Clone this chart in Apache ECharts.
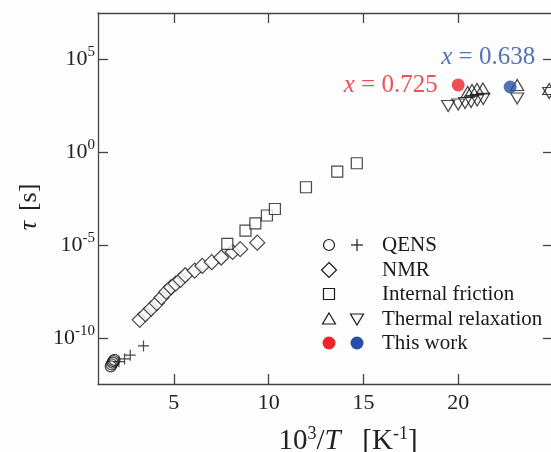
<!DOCTYPE html>
<html>
<head>
<meta charset="utf-8">
<script src="https://cdn.jsdelivr.net/npm/echarts@6/dist/echarts.min.js"></script>
<style>
html,body{margin:0;padding:0;background:#fdfdfd;}
#main{width:551px;height:452px;}
</style>
</head>
<body>
<div id="main"></div>
<script>
// x: 10^3/T [1/K], y: log10(tau / s)
var qensCircle = [[1.67,-11.5],[1.72,-11.4],[1.77,-11.3],[1.82,-11.22],[1.87,-11.15]];
var qensCross = [[2.1,-11.25],[2.4,-11.1],[2.7,-10.9],[3.4,-10.4]];
var nmr = [[3.2,-9.0],[3.5,-8.7],[3.8,-8.4],[4.1,-8.1],[4.35,-7.8],[4.6,-7.5],[4.85,-7.25],
           [5.1,-7.05],[5.35,-6.85],[5.6,-6.6],[6.1,-6.35],[6.5,-6.1],[7.0,-5.9],[7.5,-5.65],
           [8.1,-5.35],[8.5,-5.2],[9.4,-4.85]];
var friction = [[7.82,-4.92],[8.78,-4.2],[9.3,-3.81],[9.91,-3.39],[10.33,-3.04],
                [11.97,-1.87],[13.62,-1.03],[14.65,-0.58]];
var thermalUp = [[20.5,3.25],[20.73,3.36],[20.99,3.41],[21.3,3.44],[23.11,3.63],[24.8,3.41]];
var thermalDown = [[19.47,2.5],[20.0,2.58],[20.36,2.66],[20.68,2.72],[21.0,2.8],[21.32,2.88],
                   [23.11,2.9],[24.8,3.2]];
var thisWorkRed = [[20.0,3.63]];
var thisWorkBlue = [[22.74,3.52]];
var xTicks = [5,10,15,20];
var yTicks = [-10,-5,0,5];

var FONT = 'Liberation Serif';
var INK = '#1a1a1a';
var AX = '#444';

var myChart = echarts.init(document.getElementById('main'));

function openStyle(fill) {
    return {color: fill, borderColor: INK, borderWidth: 1.2};
}

var lx1 = 329, lx2 = 357, ltx = 382;
var ly = [245, 270, 294, 319, 343];
var lstroke = {fill: 'none', stroke: INK, lineWidth: 1.2};

function legendText(t, y) {
    return {type: 'text', style: {text: t, x: ltx, y: y, fill: INK, font: '21px "Liberation Serif"', verticalAlign: 'middle', align: 'left'}};
}

var option = {
    backgroundColor: '#fdfdfd',
    animation: false,
    grid: {left: 98, right: -2, top: 13, bottom: 68, containLabel: false, outerBoundsMode: 'none'},
    xAxis: [
        {
            type: 'value', min: 1, max: 25,
            axisLine: {onZero: false, lineStyle: {color: AX, width: 1.3}},
            axisTick: {inside: true, length: 10, customValues: xTicks, lineStyle: {color: AX, width: 1.3}},
            axisLabel: {customValues: xTicks, color: '#222', fontFamily: FONT, fontSize: 22, margin: 8},
            splitLine: {show: false},
            name: '{n|10}{s|3}{n|/}{i|T}{n|   [K}{s|-1}{n|]}',
            nameLocation: 'middle', nameGap: 41,
            nameTextStyle: {
                padding: [0, 0, 0, 45],
                rich: {
                    n: {fontFamily: FONT, fontSize: 29, color: '#222'},
                    i: {fontFamily: FONT, fontSize: 29, color: '#222', fontStyle: 'italic'},
                    s: {fontFamily: FONT, fontSize: 18, color: '#222', padding: [0, 0, 15, 0]}
                }
            }
        },
        {
            type: 'value', min: 1, max: 25, position: 'top',
            axisLine: {onZero: false, lineStyle: {color: AX, width: 1.3}},
            axisTick: {inside: true, length: 10, customValues: xTicks, lineStyle: {color: AX, width: 1.3}},
            axisLabel: {show: false},
            splitLine: {show: false}
        }
    ],
    yAxis: [
        {
            type: 'value', min: -12.45, max: 7.5,
            axisLine: {onZero: false, lineStyle: {color: AX, width: 1.3}},
            axisTick: {inside: true, length: 10, customValues: yTicks, lineStyle: {color: AX, width: 1.3}},
            axisLabel: {
                customValues: yTicks, margin: 3,
                formatter: function (v) { return '{b|10}{s|' + v + '}'; },
                rich: {
                    b: {fontFamily: FONT, fontSize: 22, color: '#222'},
                    s: {fontFamily: FONT, fontSize: 15, color: '#222', padding: [0, 0, 14, 0]}
                }
            },
            splitLine: {show: false},
            name: '{i|τ}   {n|[s]}',
            nameLocation: 'middle', nameGap: 52,
            nameTextStyle: {
                padding: [0, 17, 0, 0],
                rich: {
                    n: {fontFamily: FONT, fontSize: 26, color: '#222'},
                    i: {fontFamily: FONT, fontSize: 26, color: '#222', fontStyle: 'italic'}
                }
            }
        },
        {
            type: 'value', min: -12.45, max: 7.5, position: 'right',
            axisLine: {onZero: false, lineStyle: {color: AX, width: 1.3}},
            axisTick: {inside: true, length: 10, customValues: yTicks, lineStyle: {color: AX, width: 1.3}},
            axisLabel: {show: false},
            splitLine: {show: false}
        }
    ],
    series: [
        {name: 'QENS', type: 'scatter', data: qensCircle, symbol: 'circle', symbolSize: 11, itemStyle: openStyle('rgba(0,0,0,0)'), silent: true},
        {name: 'QENS+', type: 'scatter', data: qensCross, symbol: 'path://M0,5L10,5M5,0L5,10', symbolSize: 11, itemStyle: openStyle('none'), silent: true},
        {name: 'NMR', type: 'scatter', data: nmr, symbol: 'diamond', symbolSize: 15, itemStyle: openStyle('#fdfdfd'), silent: true},
        {name: 'Internal friction', type: 'scatter', data: friction, symbol: 'rect', symbolSize: 11, itemStyle: openStyle('#fdfdfd'), silent: true},
        {name: 'Thermal up', type: 'scatter', data: thermalUp, symbol: 'triangle', symbolSize: [13, 11], itemStyle: openStyle('rgba(0,0,0,0)'), silent: true},
        {name: 'Thermal down', type: 'scatter', data: thermalDown, symbol: 'triangle', symbolRotate: 180, symbolSize: [13, 11], itemStyle: openStyle('rgba(0,0,0,0)'), silent: true},
        {
            name: 'This work x=0.725', type: 'scatter', data: thisWorkRed, symbol: 'circle', symbolSize: 13,
            itemStyle: {color: '#e8262b'}, silent: true,
            label: {
                show: true, position: 'left', distance: 14,
                formatter: '{i|x} = 0.725',
                color: '#e8262b', fontFamily: FONT, fontSize: 25,
                rich: {i: {fontStyle: 'italic', fontFamily: FONT, fontSize: 25, color: '#e8262b'}}
            }
        },
        {
            name: 'This work x=0.638', type: 'scatter', data: thisWorkBlue, symbol: 'circle', symbolSize: 13,
            itemStyle: {color: '#2850a8'}, silent: true,
            label: {
                show: true, position: 'inside', offset: [-22, -30],
                formatter: '{i|x} = 0.638',
                color: '#2850a8', fontFamily: FONT, fontSize: 25,
                rich: {i: {fontStyle: 'italic', fontFamily: FONT, fontSize: 25, color: '#2850a8'}}
            }
        }
    ],
    graphic: [
        {type: 'circle', shape: {cx: lx1, cy: ly[0], r: 5.5}, style: lstroke},
        {type: 'polyline', shape: {points: [[lx2 - 6, ly[0]], [lx2 + 6, ly[0]]]}, style: lstroke},
        {type: 'polyline', shape: {points: [[lx2, ly[0] - 6], [lx2, ly[0] + 6]]}, style: lstroke},
        {type: 'polygon', shape: {points: [[lx1, ly[1] - 7.5], [lx1 + 7.5, ly[1]], [lx1, ly[1] + 7.5], [lx1 - 7.5, ly[1]]]}, style: lstroke},
        {type: 'rect', shape: {x: lx1 - 5.5, y: ly[2] - 5.5, width: 11, height: 11}, style: lstroke},
        {type: 'polygon', shape: {points: [[lx1, ly[3] - 6], [lx1 + 6.5, ly[3] + 5], [lx1 - 6.5, ly[3] + 5]]}, style: lstroke},
        {type: 'polygon', shape: {points: [[lx2, ly[3] + 6], [lx2 + 6.5, ly[3] - 5], [lx2 - 6.5, ly[3] - 5]]}, style: lstroke},
        {type: 'circle', shape: {cx: lx1, cy: ly[4], r: 6.5}, style: {fill: '#e8262b'}},
        {type: 'circle', shape: {cx: lx2, cy: ly[4], r: 6.5}, style: {fill: '#2850a8'}},
        legendText('QENS', ly[0]),
        legendText('NMR', ly[1]),
        legendText('Internal friction', ly[2]),
        legendText('Thermal relaxation', ly[3]),
        legendText('This work', ly[4])
    ]
};

myChart.setOption(option);
</script>
</body>
</html>
